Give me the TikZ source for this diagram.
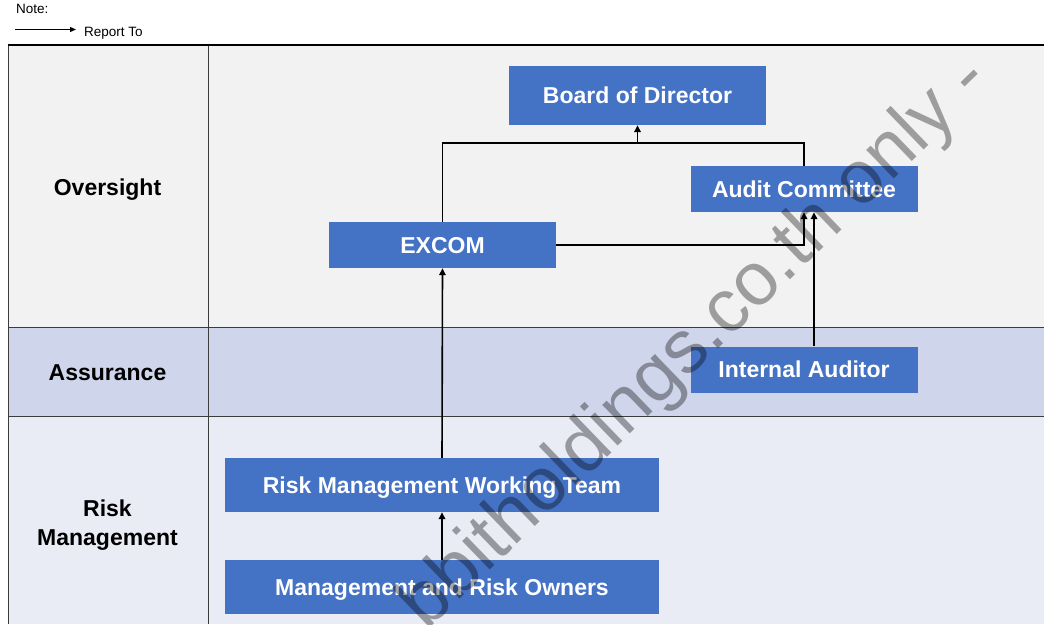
\documentclass[tikz,border=0pt]{standalone}
\usepackage{fontspec}
\setmainfont{Liberation Sans}
\usetikzlibrary{arrows.meta}
\definecolor{boxblue}{HTML}{4472C4}
\definecolor{rowA}{HTML}{F2F2F2}
\definecolor{rowB}{HTML}{CFD5EA}
\definecolor{rowC}{HTML}{E9EBF5}
\definecolor{gridline}{HTML}{3C3C3C}
\begin{document}
\begin{tikzpicture}[x=1pt,y=-1pt,
  box/.style={fill=boxblue, text=white, font=\fontsize{23}{27}\selectfont\bfseries,
    inner sep=0pt, text height=16.5pt, text depth=0pt, anchor=center},
  lab/.style={text=black, font=\fontsize{23}{29.3}\selectfont\bfseries, inner sep=0pt,
    text height=16.5pt, text depth=0pt, align=center},
  small/.style={font=\fontsize{13.5}{16}\selectfont, inner sep=0pt},
  conn/.style={draw=black, line width=1.6pt},
  arr/.style={conn, -{Triangle[width=6.5pt,length=7pt]}},
  grid/.style={draw=gridline, line width=1pt},
  watermark/.style={font=\fontsize{75}{75}\selectfont, text=black, text opacity=0.35, inner sep=0pt}]
\useasboundingbox (0,0) rectangle (1044,624);
\begin{scope}
\clip (0,0) rectangle (1044,624);
\fill[white] (0,0) rectangle (1044,624);
\fill[rowA] (8,45) rectangle (1044,327);
\fill[rowB] (8,327) rectangle (1044,416);
\fill[rowC] (8,416) rectangle (1044,624);
\draw[grid] (8,327) -- (1044,327);
\draw[grid] (8,416) -- (1044,416);
\draw[grid] (8,45) -- (8,624);
\draw[grid] (208,45) -- (208,624);
\draw[draw=black, line width=1.2pt] (7.5,45) -- (1044,45);

% legend
\node[small, anchor=base west] (note) at (16,13.5) {Note:};
\coordinate (la) at (15,29.5);
\coordinate (lb) at (76,29.5);
\draw[draw=black, line width=1.1pt, -{Triangle[width=5pt,length=6pt]}] (la) -- (lb);
\node[small, anchor=base west] (rep) at (84,36) {Report To};

% row labels
\node[lab] (ov) at (107.5,187) {Oversight};
\node[lab] (as) at (107.5,372.5) {Assurance};
\node[lab, text height=, text depth=, anchor=center] (rm) at (107.5,525) {Risk\\Management};

% boxes
\node[box, minimum width=257pt, minimum height=59pt] (bod) at (637.5,95.5) {Board of Director};
\node[box, minimum width=227pt, minimum height=46pt] (auditc) at (804,189) {Audit Committee};
\node[box, minimum width=227pt, minimum height=46pt] (excom) at (442.5,245) {EXCOM};
\node[box, minimum width=227pt, minimum height=46pt] (ia) at (804,369.5) {Internal Auditor};
\node[box, minimum width=434pt, minimum height=54pt] (rmwt) at (442,485) {Risk Management Working Team};
\node[box, minimum width=434pt, minimum height=54pt] (mro) at (442,587) {Management and Risk Owners};

% connectors
\coordinate (top) at (637.5,143);
\draw[conn] (excom.north) |- (top) -| (auditc.north);
\draw[arr] (top) -- (bod.south);
\draw[arr] (excom.east) -| (auditc.south);
\draw[arr] ([xshift=10pt]ia.north) -- ([xshift=10pt]auditc.south);
\draw[arr] (rmwt.north) -- (excom.south);
\draw[arr] (mro.north) -- (rmwt.south);

% watermark
\node[watermark, rotate=44] (wm) at (696,344) {bbitholdings.co.th only -};
\end{scope}
\end{tikzpicture}
\end{document}
